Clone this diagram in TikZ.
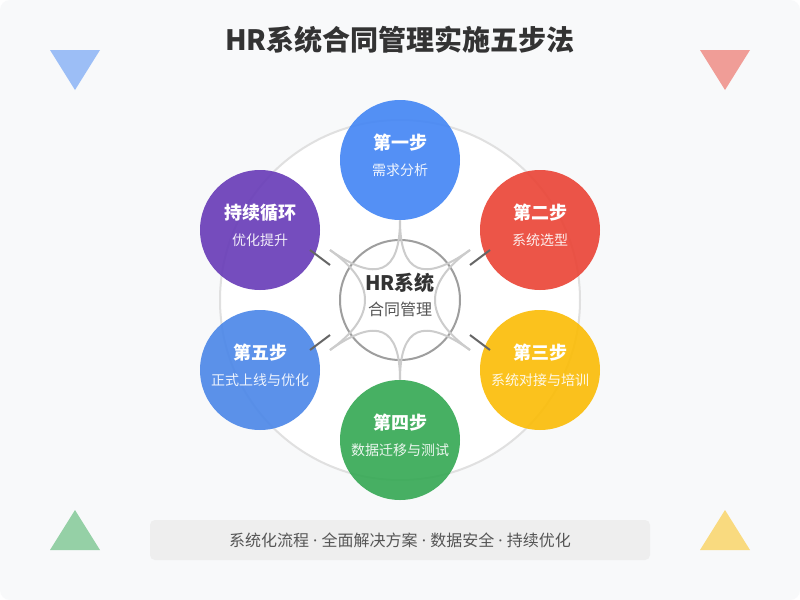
\documentclass[tikz,border=0pt]{standalone}
\usepackage{fontspec}
\setmainfont{Noto Sans CJK SC}
\newfontfamily\latinfont{Noto Sans}
\newcommand\sepdot{{\latinfont\ ·\ }}
\usetikzlibrary{calc}
\definecolor{bgpanel}{HTML}{F8F9FA}
\definecolor{ringgray}{HTML}{E0E0E0}
\definecolor{hubgray}{HTML}{9E9E9E}
\definecolor{flowgray}{HTML}{CCCCCC}
\definecolor{tickgray}{HTML}{666666}
\definecolor{bargray}{HTML}{EEEEEE}
\definecolor{darktext}{HTML}{333333}
\definecolor{midtext}{HTML}{555555}
\definecolor{gblue}{HTML}{4285F4}
\definecolor{gred}{HTML}{EA4335}
\definecolor{gyellow}{HTML}{FBBC05}
\definecolor{ggreen}{HTML}{34A853}
\definecolor{lblue}{HTML}{4A86E8}
\definecolor{gpurple}{HTML}{673AB7}

\begin{document}
\begin{tikzpicture}[x=0.75pt, y=-0.75pt,
    stepdisc/.style={circle, minimum size=90pt, inner sep=0pt, fill opacity=0.9},
    steptitle/.style={text=white, font=\fontsize{13.5}{16}\selectfont\bfseries},
    stepsub/.style={text=white, text opacity=0.9, font=\fontsize{10.5}{13}\selectfont},
    flow/.style={draw=flowgray, line width=1.5pt},
    tick/.style={draw=tickgray, line width=1.5pt},
    corner/.style={opacity=0.5}]
  \useasboundingbox (0,0) rectangle (800,600);
  \fill[white] (0,0) rectangle (800,600);
  \fill[bgpanel, rounded corners=7.5pt] (0,0) rectangle (800,600);

  % title and corner marks
  \node[font=\fontsize{21}{25}\selectfont\bfseries, text=darktext] (title) at (400,40) {HR系统合同管理实施五步法};
  \fill[gblue, corner] (50,50) -- (100,50) -- (75,90) -- cycle;
  \fill[gred, corner] (700,50) -- (750,50) -- (725,90) -- cycle;
  \fill[ggreen, corner] (50,550) -- (100,550) -- (75,510) -- cycle;
  \fill[gyellow, corner] (700,550) -- (750,550) -- (725,510) -- cycle;

  % rings
  \node[circle, minimum size=270pt, draw=ringgray, line width=1.5pt, fill=white] (ring) at (400,300) {};
  \node[circle, minimum size=90pt, draw=hubgray, line width=1.5pt, fill=white] (hub) at (400,300) {};

  % steps
  \node[stepdisc, fill=gblue] (need) at (400,160) {};
  \node[stepdisc, fill=gred] (pick) at (540,230) {};
  \node[stepdisc, fill=gyellow] (link) at (540,370) {};
  \node[stepdisc, fill=ggreen] (test) at (400,440) {};
  \node[stepdisc, fill=lblue] (live) at (260,370) {};
  \node[stepdisc, fill=gpurple] (loop) at (260,230) {};

  % star of curves round the hub
  \coordinate (p1) at (need.south);
  \coordinate (p2) at (470,250);
  \coordinate (p3) at (470,350);
  \coordinate (p4) at (test.north);
  \coordinate (p5) at (330,350);
  \coordinate (p6) at (330,250);
  \foreach \a/\b in {p1/p2, p2/p3, p3/p4, p4/p5, p5/p6, p6/p1}
    \draw[flow] (\a) .. controls ($(\a)!2/3!(hub.center)$) and ($(\b)!2/3!(hub.center)$) .. (\b);

  % short ticks
  \coordinate (t1) at (310,250);
  \coordinate (t2) at (330,265);
  \coordinate (t3) at (490,250);
  \coordinate (t4) at (470,265);
  \coordinate (t5) at (310,350);
  \coordinate (t6) at (330,335);
  \coordinate (t7) at (490,350);
  \coordinate (t8) at (470,335);
  \draw[tick] (t1) -- (t2);
  \draw[tick] (t3) -- (t4);
  \draw[tick] (t5) -- (t6);
  \draw[tick] (t7) -- (t8);

  % texts
  \node[font=\fontsize{15}{18}\selectfont\bfseries, text=darktext] (hub-t) at (400,283) {HR系统};
  \node[font=\fontsize{12}{14}\selectfont, text=midtext] (hub-s) at (400,309) {合同管理};
  \node[steptitle] (need-t) at (400,143) {第一步};
  \node[stepsub] (need-s) at (400,170) {需求分析};
  \node[steptitle] (pick-t) at (540,213) {第二步};
  \node[stepsub] (pick-s) at (540,240) {系统选型};
  \node[steptitle] (link-t) at (540,353) {第三步};
  \node[stepsub] (link-s) at (540,380) {系统对接与培训};
  \node[steptitle] (test-t) at (400,423) {第四步};
  \node[stepsub] (test-s) at (400,450) {数据迁移与测试};
  \node[steptitle] (live-t) at (260,353) {第五步};
  \node[stepsub] (live-s) at (260,380) {正式上线与优化};
  \node[steptitle] (loop-t) at (260,213) {持续循环};
  \node[stepsub] (loop-s) at (260,240) {优化提升};

  % footer
  \node[fill=bargray, rounded corners=3.75pt, minimum width=375pt, minimum height=30pt,
    font=\fontsize{12}{14}\selectfont, text=midtext] (footer) at (400,540)
    {系统化流程\sepdot 全面解决方案\sepdot 数据安全\sepdot 持续优化};
\end{tikzpicture}
\end{document}
